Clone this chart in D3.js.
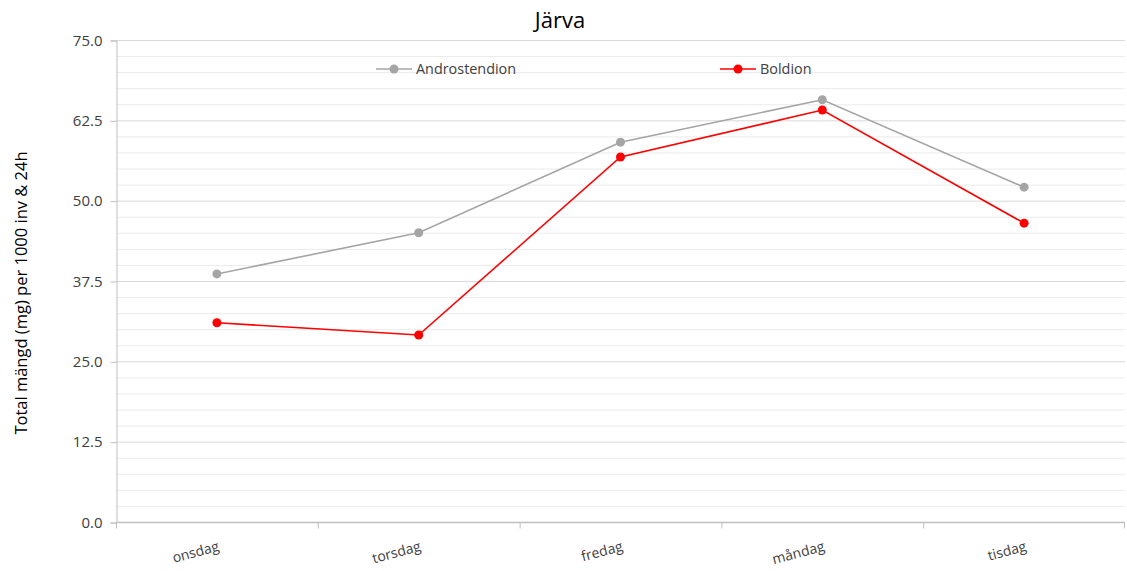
<!DOCTYPE html>
<html>
<head>
<meta charset="utf-8">
<script src="https://cdn.jsdelivr.net/npm/d3@7"></script>
<style>
  body { margin: 0; background: #fff; }
  svg { font-family: "Open Sans", "Noto Sans", sans-serif; }
</style>
</head>
<body>
<div id="drawing_region"></div>
<script>
// data
var days = ["onsdag", "torsdag", "fredag", "måndag", "tisdag"];
var androstendion = [38.6, 45.0, 59.1, 65.7, 52.1];
var boldion = [31.0, 29.1, 56.8, 64.1, 46.5];
var yTicks = [0, 12.5, 25, 37.5, 50, 62.5, 75];
var seriesNames = ["Androstendion", "Boldion"];
var seriesColors = ["#a5a5a5", "#ff0000"];

var width = 1127, height = 571;
var margin = { top: 40, right: 2, bottom: 49, left: 116 };

var svg = d3.select("#drawing_region")
    .append("svg")
    .attr("width", width)
    .attr("height", height);

var xScale = d3.scaleBand()
    .domain(days)
    .range([margin.left, width - margin.right]);

var yScale = d3.scaleLinear()
    .domain([0, 75])
    .range([height - margin.bottom, margin.top]);

// minor gridlines every 2.5
svg.append("g")
    .selectAll("line")
    .data(d3.range(2.5, 75, 2.5).filter(function (v) { return v % 12.5 !== 0; }))
    .enter()
    .append("line")
    .attr("x1", margin.left).attr("x2", width - margin.right)
    .attr("y1", function (d) { return yScale(d) + 0.5; })
    .attr("y2", function (d) { return yScale(d) + 0.5; })
    .attr("stroke", "#ebebeb")
    .attr("stroke-width", 1);

// major gridlines
svg.append("g")
    .selectAll("line")
    .data(yTicks.filter(function (v) { return v > 0; }))
    .enter()
    .append("line")
    .attr("x1", margin.left).attr("x2", width - margin.right)
    .attr("y1", function (d) { return yScale(d) + 0.5; })
    .attr("y2", function (d) { return yScale(d) + 0.5; })
    .attr("stroke", "#d9d9d9")
    .attr("stroke-width", 1);

// y axis
var yAxis = svg.append("g")
    .attr("transform", "translate(" + (margin.left + 0.5) + ",0.5)")
    .call(d3.axisLeft(yScale).tickValues(yTicks).tickSize(6).tickPadding(8)
        .tickFormat(d3.format(".1f")));
yAxis.selectAll("path, line").attr("stroke", "#bfbfbf");
yAxis.selectAll("text")
    .attr("fill", "#404040")
    .style("font-size", "15px")
    .style("font-family", "'Open Sans', sans-serif");

// x axis
var bounds = days.map(function (d) { return xScale(d); }).concat([width - margin.right - 1]);
var xAxis = svg.append("g")
    .attr("transform", "translate(0," + (yScale(0) + 0.5) + ")");
xAxis.append("line")
    .attr("x1", margin.left).attr("x2", width - margin.right)
    .attr("stroke", "#bfbfbf").attr("stroke-width", 1.5);
xAxis.selectAll("line.tick")
    .data(bounds)
    .enter()
    .append("line")
    .attr("class", "tick")
    .attr("x1", function (d) { return d + 0.5; })
    .attr("x2", function (d) { return d + 0.5; })
    .attr("y1", 0).attr("y2", 6)
    .attr("stroke", "#bfbfbf");
xAxis.selectAll("text")
    .data(days)
    .enter()
    .append("text")
    .attr("transform", function (d) {
        return "translate(" + (xScale(d) + xScale.bandwidth() / 2 + 3) + ",28) rotate(-15)";
    })
    .attr("text-anchor", "end")
    .attr("fill", "#404040")
    .style("font-size", "14px")
    .text(function (d) { return d; });

// lines and markers
var series = [androstendion, boldion];
var line = d3.line()
    .x(function (d, i) { return xScale(days[i]) + xScale.bandwidth() / 2; })
    .y(function (d) { return yScale(d); });

series.forEach(function (values, s) {
    var g = svg.append("g");
    g.append("path")
        .datum(values)
        .attr("d", line)
        .attr("fill", "none")
        .attr("stroke", seriesColors[s])
        .attr("stroke-width", 1.6);
    g.selectAll("circle")
        .data(values)
        .enter()
        .append("circle")
        .attr("cx", function (d, i) { return xScale(days[i]) + xScale.bandwidth() / 2; })
        .attr("cy", function (d) { return yScale(d); })
        .attr("r", 4.5)
        .attr("fill", seriesColors[s]);
});

// legend
var legendX = [376, 720];
var legend = svg.append("g")
    .selectAll("g")
    .data(seriesNames)
    .enter()
    .append("g")
    .attr("transform", function (d, i) { return "translate(" + legendX[i] + ",69)"; });
legend.append("line")
    .attr("x1", 0).attr("x2", 36)
    .attr("stroke", function (d, i) { return seriesColors[i]; })
    .attr("stroke-width", 1.6);
legend.append("circle")
    .attr("cx", 18).attr("r", 4.5)
    .attr("fill", function (d, i) { return seriesColors[i]; });
legend.append("text")
    .attr("x", 40)
    .attr("dy", "0.35em")
    .attr("fill", "#404040")
    .style("font-size", "14.4px")
    .text(function (d) { return d; });

// title
svg.append("text")
    .attr("x", 560).attr("y", 28)
    .attr("text-anchor", "middle")
    .attr("fill", "#000")
    .style("font-size", "22px")
    .text("Järva");

// y label
svg.append("text")
    .attr("transform", "translate(27,293) rotate(-90)")
    .attr("text-anchor", "middle")
    .attr("fill", "#000")
    .style("font-size", "16.5px")
    .text("Total mängd (mg) per 1000 inv & 24h");
</script>
</body>
</html>
